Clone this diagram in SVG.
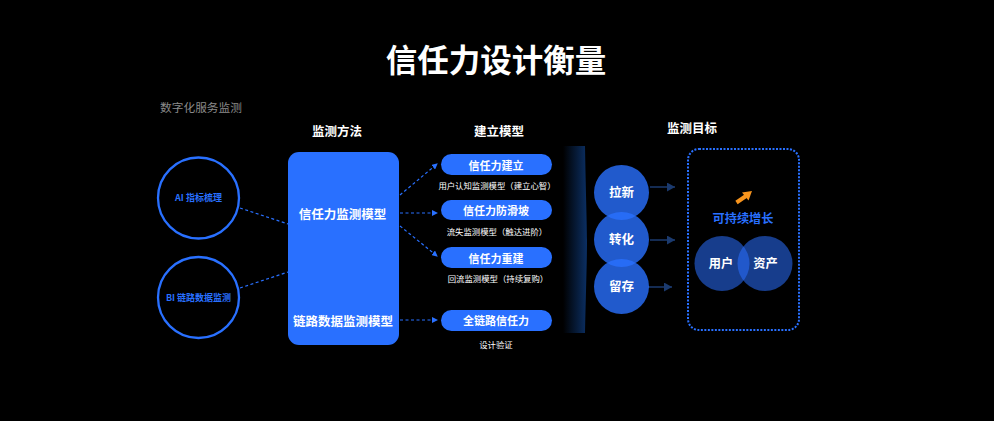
<svg xmlns="http://www.w3.org/2000/svg" width="994" height="421" viewBox="0 0 994 421">
<style>
text{font-family:"Noto Sans CJK SC","Noto Sans",sans-serif;text-anchor:middle;fill:#fff}
.b{font-weight:700}
.h{font-size:12.500px;font-weight:700}
.p{fill:#2970ff}
.pt{font-size:11px;font-weight:700}
.s{font-size:8.400px}
.ring{fill:#000;stroke:#2970ff;stroke-width:2.300}
.d{stroke:#2970ff;stroke-width:1.200;stroke-dasharray:3 2.500;fill:none}
.c{fill:#2970ff;fill-opacity:.8}
.v{fill:#2970ff;fill-opacity:.55}
.ga{stroke:#1b3a6e;stroke-width:1.500;fill:none}
</style>
<defs>
<linearGradient id="g" x1="0" x2="1" y1="0" y2="0"><stop offset="0" stop-color="#000"/><stop offset="1" stop-color="#0b2f63"/></linearGradient>
<marker id="a" markerWidth="6" markerHeight="6" refX="5" refY="3" orient="auto" markerUnits="userSpaceOnUse"><path d="M0 0L6 3L0 6Z" fill="#2970ff"/></marker>
<marker id="m" markerWidth="9" markerHeight="9" refX="8" refY="4.500" orient="auto" markerUnits="userSpaceOnUse"><path d="M0 0L8 4.500L0 9Z" fill="#1b3a6e"/></marker>
</defs>
<rect width="994" height="421" fill="#000"/>
<text id="title" x="496" y="72" class="b" font-size="31.500">信任力设计衡量</text>
<text x="201" y="112" font-size="11.700" style="fill:#8a8a8a">数字化服务监测</text>
<text x="337" y="136" class="h">监测方法</text>
<text x="499" y="136" class="h">建立模型</text>
<text x="692" y="133" class="h">监测目标</text>

<g id="connectors">
<path class="d" d="M240 208L288 224"/>
<path class="d" d="M240 288L288 272"/>
<path class="d" d="M400 195L437 164" marker-end="url(#a)"/>
<path class="d" d="M400 213L437 213" marker-end="url(#a)"/>
<path class="d" d="M400 226L437 256" marker-end="url(#a)"/>
<path class="d" d="M400 320L437 320" marker-end="url(#a)"/>
<path class="ga" d="M650 187L675 187" marker-end="url(#m)"/>
<path class="ga" d="M650 240L675 240" marker-end="url(#m)"/>
<path class="ga" d="M648 287L672 287" marker-end="url(#m)"/>
</g>

<g id="n-ai"><circle class="ring" cx="198.500" cy="198" r="40.500"/><text x="198.500" y="200.500" font-size="9" class="b" style="fill:#2970ff">AI 指标梳理</text></g>
<g id="n-bi"><circle class="ring" cx="198.500" cy="297.500" r="40.500"/><text x="198.500" y="300.500" font-size="9" class="b" style="fill:#2970ff">BI 链路数据监测</text></g>

<g id="n-method"><rect class="p" x="288" y="152" width="111" height="193" rx="11"/>
<text x="342.500" y="219" font-size="12.500" class="b">信任力监测模型</text>
<text x="343" y="326" font-size="12.500" class="b">链路数据监测模型</text></g>

<g id="n-p1"><rect class="p" x="441" y="154" width="111" height="21" rx="10.500"/><text x="496" y="169.500" class="pt">信任力建立</text></g>
<text x="497" y="189" class="s">用户认知监测模型（建立心智）</text>
<g id="n-p2"><rect class="p" x="441" y="200" width="111" height="20" rx="10"/><text x="496" y="214.500" class="pt">信任力防滑坡</text></g>
<text x="497" y="235" class="s">流失监测模型（触达进阶）</text>
<g id="n-p3"><rect class="p" x="441" y="247" width="111" height="21" rx="10.500"/><text x="496" y="262.500" class="pt">信任力重建</text></g>
<text x="498" y="282" class="s">回流监测模型（持续复购）</text>
<g id="n-p4"><rect class="p" x="441" y="310" width="111" height="21" rx="10.500"/><text x="496" y="324.500" class="pt">全链路信任力</text></g>
<text x="496" y="348" class="s">设计验证</text>

<path id="band" fill="url(#g)" d="M563 146H585C586 200 587 225 587 240C587 260 586 290 585 333H563Z"/>

<g id="n-c1"><circle class="c" cx="621.500" cy="192.500" r="27.500"/><text x="621.500" y="196.500" font-size="12.500" class="b">拉新</text></g>
<g id="n-c2"><circle class="c" cx="621.500" cy="239.500" r="27.500"/><text x="621.500" y="244" font-size="12.500" class="b">转化</text></g>
<g id="n-c3"><circle class="c" cx="621.500" cy="286.500" r="27.500"/><text x="621.500" y="291" font-size="12.500" class="b">留存</text></g>

<g id="n-goal"><rect x="688" y="149" width="111" height="181" rx="11" fill="none" stroke="#2970ff" stroke-width="2" stroke-dasharray="2 1.500"/>
<path d="M736.500 202.500L746 196" stroke="#f7941d" stroke-width="4" fill="none"/>
<path d="M742 192.500L752 191L748.500 200.500Z" fill="#f7941d"/>
<text x="743" y="223" font-size="12.200" class="b" style="fill:#2970ff">可持续增长</text>
<circle class="v" cx="722" cy="263.500" r="27.500"/><circle class="v" cx="765" cy="263.500" r="27.500"/>
<text x="721" y="268" font-size="12.200" class="b">用户</text>
<text x="765.500" y="268" font-size="12.200" class="b">资产</text></g>
</svg>
